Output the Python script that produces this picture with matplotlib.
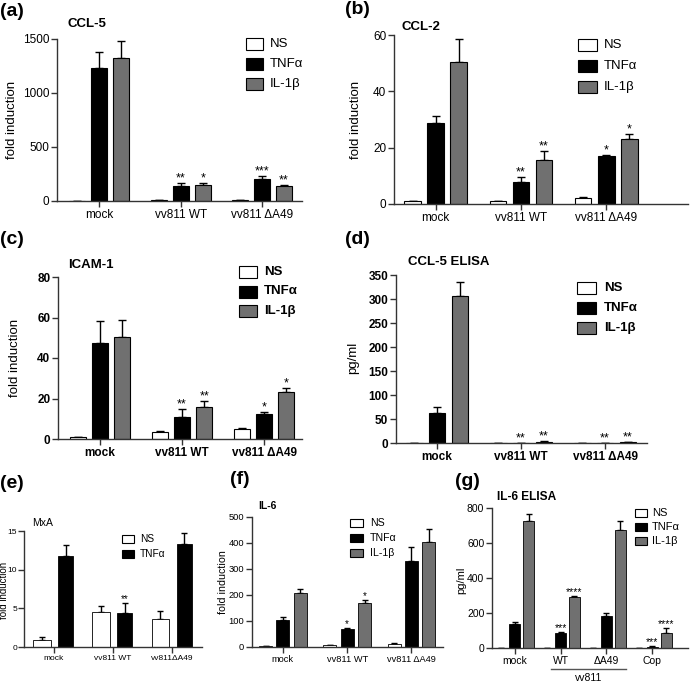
import numpy as np
import matplotlib
matplotlib.use("Agg")
import matplotlib.pyplot as plt
from matplotlib.patches import Rectangle
from matplotlib.lines import Line2D

plt.rcParams['font.family'] = ['Liberation Sans', 'DejaVu Sans']

# ---------------- data ----------------
groups3 = ['mock', 'vv811 WT', 'vv811 \u0394A49']
series3 = ['NS', 'TNF\u03b1', 'IL-1\u03b2']

# (a) CCL-5
a_ns = [0, 6, 6];            a_ns_err = [0, 1, 1]
a_tnf = [1231, 139, 201];    a_tnf_err = [150, 25, 28]
a_il = [1324, 148, 139];     a_il_err = [158, 19, 9]
a_tnf_sig = ['', '**', '***']; a_il_sig = ['', '*', '**']

# (b) CCL-2
b_ns = [0.95, 0.95, 2.2];    b_ns_err = [0.25, 0.15, 0.2]
b_tnf = [28.9, 7.9, 17.2];   b_tnf_err = [2.2, 1.7, 0.3]
b_il = [50.3, 15.7, 23.0];   b_il_err = [8.3, 3.0, 1.9]
b_tnf_sig = ['', '**', '*']; b_il_sig = ['', '**', '*']

# (c) ICAM-1
c_ns = [0.8, 3.4, 5.1];      c_ns_err = [0.2, 0.7, 0.1]
c_tnf = [47.5, 11.1, 12.3];  c_tnf_err = [10.7, 3.7, 0.8]
c_il = [50.5, 15.7, 23.1];   c_il_err = [8.5, 3.2, 2.0]
c_tnf_sig = ['', '**', '*']; c_il_sig = ['', '**', '*']

# (d) CCL-5 ELISA (pg/ml)
d_ns = [0, 0, 0];            d_ns_err = [0, 0, 0]
d_tnf = [63.3, 0.5, 0.3];    d_tnf_err = [11.9, 0, 0]
d_il = [306, 2.5, 1.5];      d_il_err = [30, 1.5, 0.5]
d_tnf_sig = ['', '**', '**']; d_il_sig = ['', '**', '**']

# (e) MxA
e_groups = ['mock', 'vv811 WT', 'vv811\u0394A49']
e_series = ['NS', 'TNF\u03b1']
e_ns = [0.95, 4.55, 3.57];   e_ns_err = [0.35, 0.75, 1.13]
e_tnf = [11.8, 4.4, 13.3];   e_tnf_err = [1.35, 1.3, 1.4]
e_ns_sig = ['', '', '']; e_tnf_sig = ['', '**', '']

# (f) IL-6
f_ns = [2, 7.7, 12.8];       f_ns_err = [0.5, 0.5, 2.2]
f_tnf = [102, 70, 330];      f_tnf_err = [13, 3, 55]
f_il = [207, 168, 402];      f_il_err = [15, 13, 50]
f_tnf_sig = ['', '*', '']; f_il_sig = ['', '*', '']

# (g) IL-6 ELISA (pg/ml)
g_groups = ['mock', 'WT', '\u0394A49', 'Cop']
g_ns = [0, 0, 0, 0];         g_ns_err = [0, 0, 0, 0]
g_tnf = [139, 88, 185, 7.6]; g_tnf_err = [8, 3, 15, 3]
g_il = [728, 290, 674, 88];  g_il_err = [38, 9, 50, 26]
g_tnf_sig = ['', '***', '', '***']; g_il_sig = ['', '****', '', '****']
g_bracket_label = 'vv811'

none3 = ['', '', '']
none4 = ['', '', '', '']

# ---------------- styling ----------------
W, H = 691, 683
fig = plt.figure(figsize=(W / 100, H / 100), dpi=100)
COLORS3 = ['white', 'black', '#707070']
COLORS2 = ['white', 'black']
AX_COL = '#333333'


def fx(x):
    return x / W


def fy(y):
    return 1 - y / H


def make_axes(l, t, r, b):
    return fig.add_axes([l / W, 1 - b / H, (r - l) / W, (b - t) / H])


def draw_panel(ax, groups, series, offsets, widths, colors, xlim, ylim, yticks,
               tick_fs, tick_bold=False, star_fs=9, capsize=3, lw=0.8):
    x = np.arange(len(groups))
    for (vals, errs, sig), off, w, col in zip(series, offsets, widths, colors):
        vals = np.asarray(vals, float)
        errs = np.asarray(errs, float)
        ax.errorbar(x + off, vals, yerr=[np.zeros_like(errs), errs], fmt='none',
                    ecolor='black', elinewidth=1.0, capsize=capsize, capthick=1.0,
                    zorder=1)
        ax.bar(x + off, vals, w, color=col, edgecolor='black', linewidth=lw,
               zorder=2)
        for xi, v, e, s in zip(x + off, vals, errs, sig):
            if s:
                ax.annotate(s, (xi, v + e), xytext=(0, -1),
                            textcoords='offset points', ha='center',
                            va='bottom', fontsize=star_fs)
    ax.set_xlim(*xlim)
    ax.set_ylim(*ylim)
    ax.set_yticks(yticks)
    ax.set_xticks(x)
    ax.set_xticklabels(groups)
    wt = 'bold' if tick_bold else 'normal'
    for lab in ax.get_xticklabels() + ax.get_yticklabels():
        lab.set_fontsize(tick_fs)
        lab.set_fontweight(wt)
    for s in ['top', 'right']:
        ax.spines[s].set_visible(False)
    for s in ['left', 'bottom']:
        ax.spines[s].set_color(AX_COL)
        ax.spines[s].set_linewidth(1.0)
    ax.tick_params(direction='out', length=4, width=1.0, color=AX_COL,
                   pad=1.5, labelcolor='black')
    ax.patch.set_alpha(0)


def legend(labels, colors, x, y0, dy, w, h, gap, fs, bold=False):
    for i, (lab, col) in enumerate(zip(labels, colors)):
        yc = y0 + i * dy
        fig.patches.append(Rectangle((fx(x), fy(yc + h / 2)), w / W, h / H,
                                     transform=fig.transFigure, facecolor=col,
                                     edgecolor='black', linewidth=0.8))
        fig.text(fx(x + w + gap), fy(yc), lab, fontsize=fs, ha='left',
                 va='center', fontweight='bold' if bold else 'normal')


def label_texts(letter, lx, ly, title, tx, ty, tfs, tbold, ylab, yx, yy, yfs):
    fig.text(fx(lx), fy(ly), letter, fontsize=14, fontweight='bold',
             ha='left', va='center')
    fig.text(fx(tx), fy(ty), title, fontsize=tfs,
             fontweight='bold' if tbold else 'normal', ha='left', va='center')
    fig.text(fx(yx), fy(yy), ylab, fontsize=yfs, rotation=90, ha='center',
             va='center')


off3 = [-0.27, 0.0, 0.27]
wid3 = [0.195, 0.195, 0.195]

# (a)
ax = make_axes(57, 39, 302, 201)
draw_panel(ax, groups3, [(a_ns, a_ns_err, none3), (a_tnf, a_tnf_err, a_tnf_sig),
                         (a_il, a_il_err, a_il_sig)],
           off3, wid3, COLORS3, (-0.52, 2.49), (0, 1500), [0, 500, 1000, 1500],
           tick_fs=8.5, star_fs=9)
label_texts('(a)', 0, 11, 'CCL-5', 68, 24, 9.5, True, 'fold induction', 12, 120, 9.5)
legend(series3, COLORS3, 246, 44, 20, 17, 12, 7, 9.5)

# (b)
ax = make_axes(394, 35, 688, 204)
draw_panel(ax, groups3, [(b_ns, b_ns_err, none3), (b_tnf, b_tnf_err, b_tnf_sig),
                         (b_il, b_il_err, b_il_sig)],
           off3, wid3, COLORS3, (-0.49, 2.96), (0, 60), [0, 20, 40, 60],
           tick_fs=8.5, star_fs=9)
label_texts('(b)', 345, 10, 'CCL-2', 402, 27, 9.5, True, 'fold induction', 356, 120, 9.5)
legend(series3, COLORS3, 578, 45, 21, 19, 12, 7, 9.5)

# (c)
ax = make_axes(58, 277, 302, 439)
draw_panel(ax, groups3, [(c_ns, c_ns_err, none3), (c_tnf, c_tnf_err, c_tnf_sig),
                         (c_il, c_il_err, c_il_sig)],
           off3, wid3, COLORS3, (-0.51, 2.46), (0, 80), [0, 20, 40, 60, 80],
           tick_fs=8.5, tick_bold=True, star_fs=9)
label_texts('(c)', 0, 240, 'ICAM-1', 68, 265, 9.5, True, 'fold induction', 15, 358, 9.5)
legend(series3, COLORS3, 239, 272, 19.5, 18, 12, 7, 9.5, bold=True)

# (d)
ax = make_axes(396, 275, 647, 443)
draw_panel(ax, groups3, [(d_ns, d_ns_err, none3), (d_tnf, d_tnf_err, d_tnf_sig),
                         (d_il, d_il_err, d_il_sig)],
           off3, wid3, COLORS3, (-0.49, 2.5), (0, 350), list(range(0, 351, 50)),
           tick_fs=8.5, tick_bold=True, star_fs=9)
label_texts('(d)', 345, 240, 'CCL-5 ELISA', 408, 262, 9.5, True, 'pg/ml', 353, 358, 9.5)
legend(series3, COLORS3, 577, 288, 20, 19, 12, 8, 9.5, bold=True)

# (e)
ax = make_axes(24, 531, 202, 647)
draw_panel(ax, e_groups, [(e_ns, e_ns_err, e_ns_sig), (e_tnf, e_tnf_err, e_tnf_sig)],
           [-0.2, 0.2], [0.3, 0.25], COLORS2, (-0.5, 2.5), (0, 15), [0, 5, 10, 15],
           tick_fs=6.0, star_fs=7, capsize=2.5, lw=0.6)
ax.tick_params(axis='y', pad=1.0)
label_texts('(e)', 0, 484, 'MxA', 32, 523, 7.5, False, 'fold induction', 4, 590, 7.0)
legend(e_series, COLORS2, 122, 539, 15, 12, 8, 6, 7.3)

# (f)
ax = make_axes(252, 517, 443, 647)
draw_panel(ax, groups3, [(f_ns, f_ns_err, none3), (f_tnf, f_tnf_err, f_tnf_sig),
                         (f_il, f_il_err, f_il_sig)],
           off3, [0.2, 0.2, 0.2], COLORS3, (-0.48, 2.49), (0, 500),
           [0, 100, 200, 300, 400, 500], tick_fs=6.7, star_fs=7, capsize=2.5, lw=0.6)
label_texts('(f)', 230, 480, 'IL-6', 258, 506, 7.5, True, 'fold induction', 223, 582, 7.7)
legend(series3, COLORS3, 350, 523, 15, 13, 8, 7, 7.6)

# (g)
ax = make_axes(492, 508, 688, 648)
draw_panel(ax, g_groups, [(g_ns, g_ns_err, none4), (g_tnf, g_tnf_err, g_tnf_sig),
                          (g_il, g_il_err, g_il_sig)],
           [-0.3, 0.0, 0.3], [0.24, 0.24, 0.24], COLORS3, (-0.5, 3.78), (0, 800),
           [0, 200, 400, 600, 800], tick_fs=7.5, star_fs=7.5, capsize=2.5, lw=0.6)
ax.add_line(Line2D([0.78, 2.43], [-0.15, -0.15], transform=ax.get_xaxis_transform(),
                   color='#555555', linewidth=1.0, clip_on=False))
ax.text(1.6, -0.215, g_bracket_label, transform=ax.get_xaxis_transform(),
        ha='center', va='center', fontsize=7.5)
label_texts('(g)', 455, 482, 'IL-6 ELISA', 497, 497, 8.6, True, 'pg/ml', 461, 580, 8)
legend(series3, COLORS3, 635, 513, 14, 12, 8, 5, 8)

fig.savefig('out.png', dpi=100)
